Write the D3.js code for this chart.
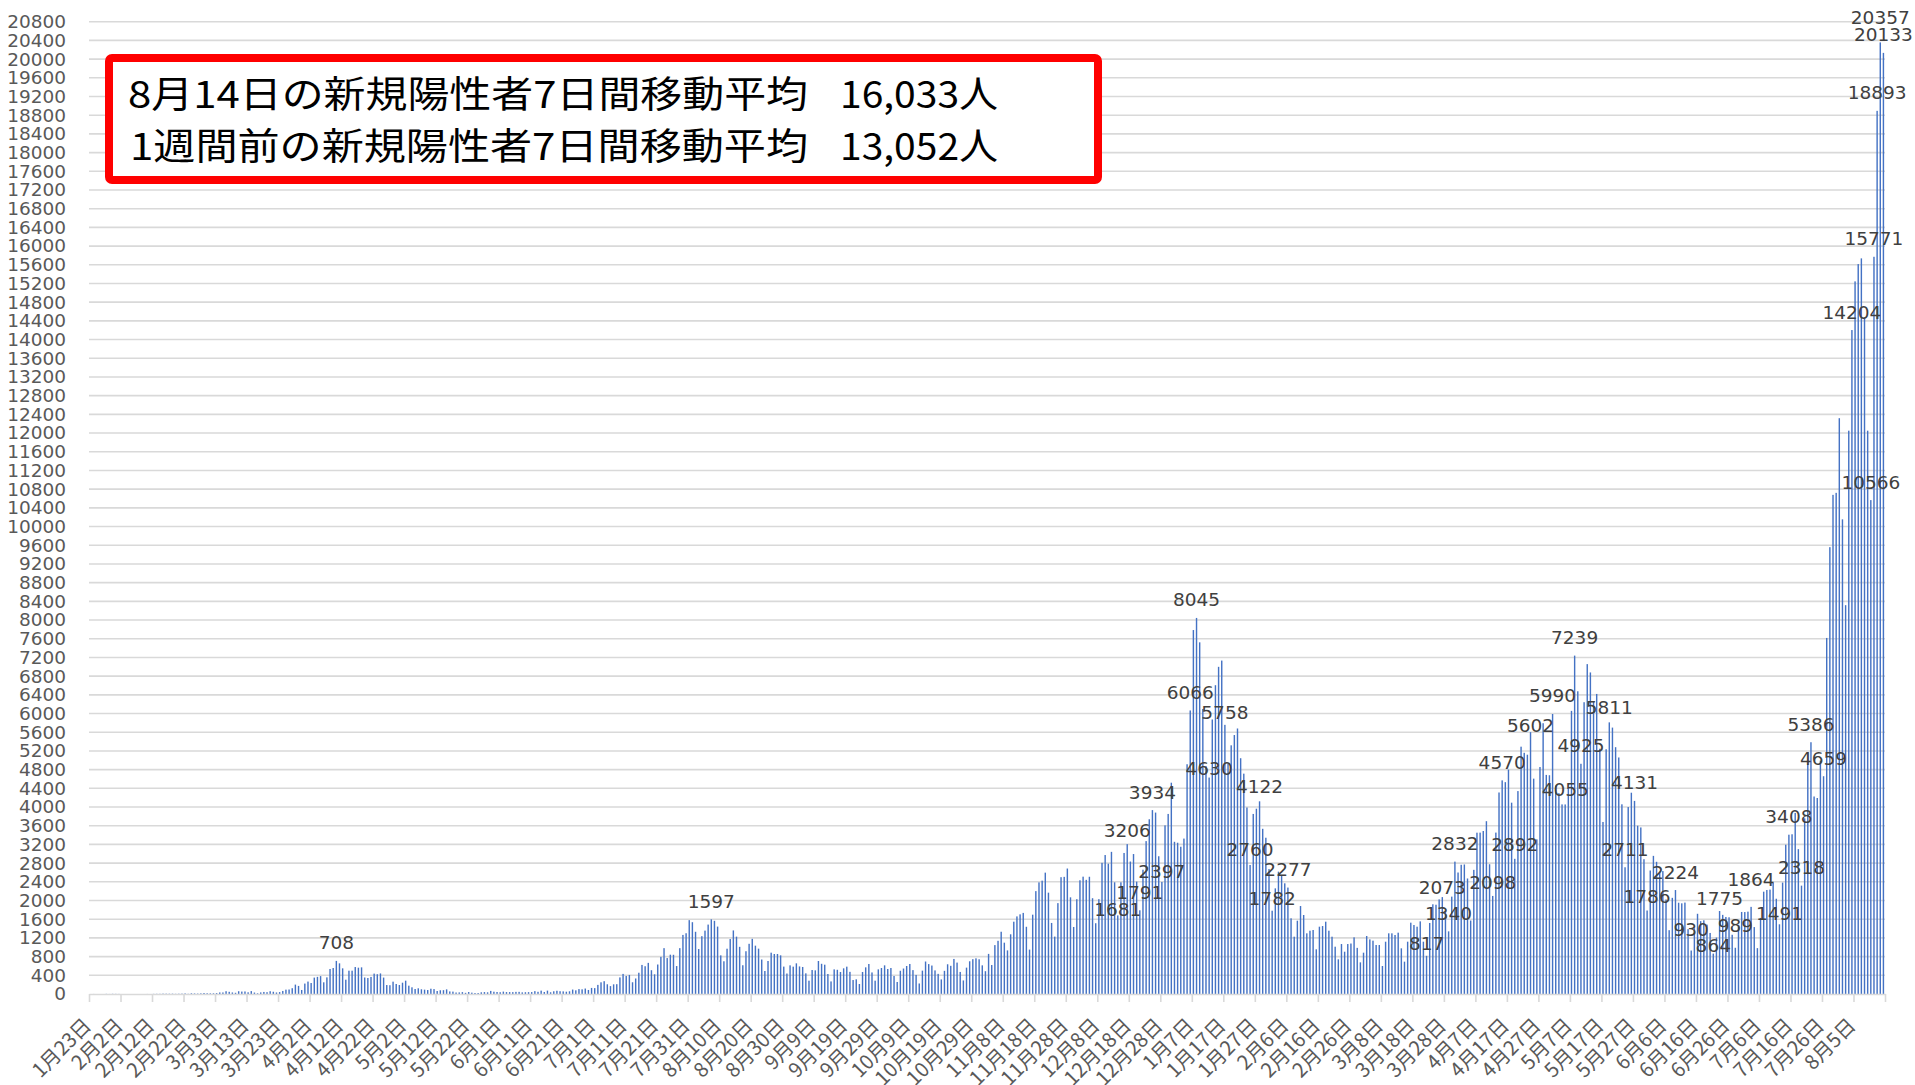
<!DOCTYPE html>
<html><head><meta charset="utf-8">
<script src="https://cdn.jsdelivr.net/npm/d3@7"></script>
<style>body{margin:0;background:#fff;} svg{display:block}</style>
</head><body>
<svg id="chart" width="1915" height="1085"></svg>
<script>
// ---- data: daily new positive cases in Japan, one array per month ----
const startDate = "2020-01-23";
const cases2020Jan = [0,1,0,0,0,3,1,4,3];
const cases2020Feb = [2,0,0,0,0,0,0,0,0,1,0,3,4,4,8,7,6,7,4,6,8,12,4,15,12,9,14,21,16];
const cases2020Mar = [14,15,19,33,33,59,47,33,26,59,52,54,36,62,31,15,34,44,39,59,48,33,41,65,93,96,124,201,173,86,223];
const cases2020Apr = [266,235,351,367,383,250,356,535,556,708,656,549,306,499,499,577,563,570,353,342,365,436,423,440,351,192,188,264,214,192];
const cases2020May = [242,285,178,143,107,122,101,93,85,113,105,64,80,82,99,55,51,32,34,40,25,42,29,21,21,36,41,36,66,49,43];
const cases2020Jun = [38,51,41,41,40,46,46,35,38,40,41,61,47,72,43,72,37,58,69,59,56,49,58,95,79,105,100,117,86,130];
const cases2020Jul = [126,195,250,274,208,169,207,210,355,430,386,408,251,332,455,622,594,666,509,421,631,795,981,769,841,839,598,981,1264,1300,1580];
const cases2020Aug = [1536,1331,962,1237,1356,1485,1597,1566,1442,826,700,969,1176,1360,1227,1009,615,915,1074,1180,1034,970,738,492,706,884,856,856,827,586,438];
const cases2020Sep = [613,585,656,590,578,442,285,513,506,706,646,627,428,269,527,518,471,549,585,474,299,314,214,471,570,642,461,285,527,556];
const cases2020Oct = [613,535,556,385,257,497,545,599,642,511,408,225,500,695,640,609,505,431,312,496,636,603,750,672,472,290,564,700,745,763,743];
const cases2020Nov = [613,488,858,620,1046,1138,1332,1098,933,1277,1547,1660,1704,1735,1438,950,1697,2201,2388,2425,2596,2168,1520,1228,1944,2499,2506,2684,2068,1434];
const cases2020Dec = [2028,2433,2510,2442,2508,2049,1514,2029,2806,2973,2788,3041,2390,1681,2389,3017,3206,2834,2994,2404,1791,2659,3271,3738,3934,3881,2947,2397,3608,3852,4520];
const cases2021Jan = [3256,3236,3151,3325,4915,6066,7786,8045,7523,6097,4875,4630,5873,6606,6999,7133,5758,4925,5320,5540,5680,5044,4714,3990,2760,3852,3964,4122,3534,3343,2673];
const cases2021Feb = [1782,2260,2617,2546,2368,2277,1619,1226,1568,1882,1690,1298,1354,1369,956,1440,1454,1547,1354,1226,1012,742,1069,905,1069,1080,1212,987];
const cases2021Mar = [677,884,1241,1169,1141,1048,1048,599,1119,1298,1298,1262,1312,977,692,1119,1526,1476,1440,1554,1119,817,1519,1919,1910,2024,2073,1783,1340,2083,2832];
const cases2021Apr = [2599,2765,2771,2471,1572,2656,3451,3452,3487,3697,2776,2098,3453,4311,4570,4532,4801,4093,2892,4341,5291,5160,5119,5602,4607,3308,4856,5793,4687,4680];
const cases2021May = [5990,4461,4297,4056,4055,4406,6057,7239,6476,4925,6242,7057,6879,6267,6419,5247,3680,5236,5811,5699,5280,5060,4058,2711,4000,4306,4131,3600,3563,2884,1786];
const cases2021Jun = [2642,2955,2828,2618,2630,2021,1365,2057,2224,1953,1940,1956,1387,930,1407,1716,1559,1577,1484,1306,864,1207,1775,1693,1648,1641,1267,989,1480,1755];
const cases2021Jul = [1753,1762,1864,1432,981,1628,2189,2225,2233,2380,2038,1491,2383,3194,3408,3417,3874,3099,2318,3758,4930,5386,4225,4193,4993,4659,7617,9559,10678,10721,12318];
const cases2021Aug = [10154,8318,12051,14204,15245,15615,15737,14472,12051,10566,15771,18893,20357,20133];

const xTickLabels = ["1月23日","2月2日","2月12日","2月22日","3月3日","3月13日","3月23日","4月2日","4月12日","4月22日",
  "5月2日","5月12日","5月22日","6月1日","6月11日","6月21日","7月1日","7月11日","7月21日","7月31日",
  "8月10日","8月20日","8月30日","9月9日","9月19日","9月29日","10月9日","10月19日","10月29日","11月8日",
  "11月18日","11月28日","12月8日","12月18日","12月28日","1月7日","1月17日","1月27日","2月6日","2月16日",
  "2月26日","3月8日","3月18日","3月28日","4月7日","4月17日","4月27日","5月7日","5月17日","5月27日",
  "6月6日","6月16日","6月26日","7月6日","7月16日","7月26日","8月5日"];
const xLabelEvery = 10;
const yMax = 20800, yStep = 400;

const labeledDates = ["2020-04-10","2020-08-07","2020-12-14","2020-12-17","2020-12-21","2020-12-25","2020-12-28",
  "2021-01-06","2021-01-08","2021-01-12","2021-01-17","2021-01-25","2021-01-28","2021-02-01","2021-02-06",
  "2021-03-22","2021-03-27","2021-03-29","2021-03-31","2021-04-12","2021-04-15","2021-04-19","2021-04-24",
  "2021-05-01","2021-05-05","2021-05-08","2021-05-10","2021-05-19","2021-05-24","2021-05-27","2021-05-31",
  "2021-06-09","2021-06-14","2021-06-21","2021-06-23","2021-06-28","2021-07-03","2021-07-12","2021-07-15",
  "2021-07-19","2021-07-22","2021-07-26","2021-08-04","2021-08-10","2021-08-11","2021-08-12","2021-08-13","2021-08-14"];
// small manual vertical shifts of some data labels (px), as in the original
const labelNudge = {"2021-08-13": -7, "2020-12-14": 12, "2021-06-21": 10, "2021-06-28": -4,
  "2021-01-17": 6, "2021-01-12": 9, "2020-12-17": 4, "2020-12-28": 8, "2021-02-01": 6,
  "2021-03-22": 6, "2021-03-27": 8, "2021-04-12": 5, "2021-04-19": 4, "2021-04-24": 11,
  "2021-05-19": 3, "2021-05-05": 3, "2021-05-31": 4, "2021-07-12": 7, "2021-06-14": -3,
  "2021-06-23": 5, "2021-07-03": -9, "2021-01-25": 3, "2021-01-28": 3};

const summaryLabels = ["8月14日の新規陽性者7日間移動平均", "1週間前の新規陽性者7日間移動平均"];
const summaryValues = ["16,033人", "13,052人"];

// ---- build ----
const cases = [].concat(cases2020Jan, cases2020Feb, cases2020Mar, cases2020Apr, cases2020May, cases2020Jun,
  cases2020Jul, cases2020Aug, cases2020Sep, cases2020Oct, cases2020Nov, cases2020Dec,
  cases2021Jan, cases2021Feb, cases2021Mar, cases2021Apr, cases2021May, cases2021Jun, cases2021Jul, cases2021Aug);
const fmt = d3.utcFormat("%Y-%m-%d");
const t0 = d3.utcParse("%Y-%m-%d")(startDate);
const data = cases.map((v, i) => ({ i, v, key: fmt(d3.utcDay.offset(t0, i)) }));

const plot = { left: 89, right: 1885, top: 21.7, bottom: 994 };
const svg = d3.select("#chart");

const x = d3.scaleBand().domain(d3.range(cases.length)).range([plot.left, plot.right])
  .paddingInner(0.55).paddingOuter(0.275);
const xEdge = d3.scaleLinear().domain([0, cases.length]).range([plot.left, plot.right]);
const y = d3.scaleLinear().domain([0, yMax]).range([plot.bottom, plot.top]);
const yTicks = d3.range(0, yMax + 1, yStep);

// gridlines
svg.append("g").selectAll("line").data(yTicks.filter(d => d > 0)).join("line")
  .attr("x1", plot.left).attr("x2", plot.right)
  .attr("y1", d => y(d)).attr("y2", d => y(d))
  .attr("stroke", "#d9d9d9").attr("stroke-width", 1.6);

// y axis labels
const yAxis = svg.append("g").attr("transform", `translate(${plot.left},0)`)
  .call(d3.axisLeft(y).tickValues(yTicks).tickSize(0).tickPadding(23).tickFormat(d3.format("d")));
yAxis.select(".domain").remove();
yAxis.selectAll("text").attr("font-family", "DejaVu Sans").attr("font-size", 18.5).attr("fill", "#595959");

// bars
svg.append("g").selectAll("rect").data(data).join("rect")
  .attr("x", d => x(d.i)).attr("width", x.bandwidth())
  .attr("y", d => y(d.v)).attr("height", d => y(0) - y(d.v))
  .attr("fill", "#4472c4");

// x axis line + boundary ticks
const xTickAxis = svg.append("g").attr("transform", `translate(0,${plot.bottom})`)
  .call(d3.axisBottom(xEdge).tickValues(d3.range(0, cases.length + 1, xLabelEvery)).tickSize(8).tickSizeOuter(0).tickFormat(""));
xTickAxis.select(".domain").attr("stroke", "#d9d9d9").attr("stroke-width", 1.6);
xTickAxis.selectAll(".tick line").attr("stroke", "#d9d9d9").attr("stroke-width", 1.6);

// x category labels
const labelIdx = d3.range(0, cases.length, xLabelEvery);
const xLab = svg.append("g").attr("transform", `translate(0,${plot.bottom})`)
  .call(d3.axisBottom(x).tickValues(labelIdx).tickSize(0).tickFormat((d, k) => xTickLabels[k]));
xLab.select(".domain").remove();
xLab.selectAll("text")
  .attr("font-family", "Noto Sans CJK JP").attr("font-size", 20).attr("fill", "#595959")
  .attr("text-anchor", "end").attr("x", 0).attr("y", 0).attr("dy", "0.35em")
  .attr("transform", "translate(-3,28) rotate(-45)");

// data labels
const labSet = new Set(labeledDates);
svg.append("g").selectAll("text").data(data.filter(d => labSet.has(d.key))).join("text")
  .attr("x", d => x(d.i) + x.bandwidth() / 2)
  .attr("y", d => y(d.v) - 11.5 + (labelNudge[d.key] || 0))
  .attr("text-anchor", "middle")
  .attr("font-family", "DejaVu Sans").attr("font-size", 18.5).attr("fill", "#404040")
  .text(d => d.v);

// summary box
const box = svg.append("g");
box.append("rect").attr("x", 109).attr("y", 58).attr("width", 989).attr("height", 122)
  .attr("rx", 3).attr("fill", "#fff").attr("stroke", "#ff0000").attr("stroke-width", 8);
const lineY = [108, 160];
const lineX = [128, 130];
summaryLabels.forEach((t, k) => {
  box.append("text").attr("x", lineX[k]).attr("y", lineY[k])
    .attr("font-family", "Noto Sans CJK JP").attr("font-size", 37).attr("fill", "#000")
    .attr("textLength", 808 - lineX[k]).attr("lengthAdjust", "spacingAndGlyphs").text(t);
  box.append("text").attr("x", 840).attr("y", lineY[k])
    .attr("font-family", "Noto Sans CJK JP").attr("font-size", 37).attr("fill", "#000")
    .attr("textLength", 158).attr("lengthAdjust", "spacingAndGlyphs").text(summaryValues[k]);
});
</script>
</body></html>
